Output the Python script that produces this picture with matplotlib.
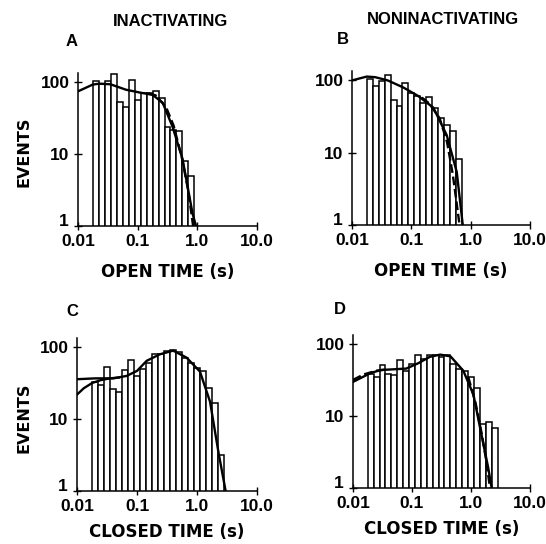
import numpy as np
import matplotlib
matplotlib.use("Agg")
import matplotlib.pyplot as plt
import matplotlib.transforms as mtransforms

# ----------------------------
# Histogram data (events per log bin)
# ----------------------------

bin_start = -1.75          # log10 of first bin edge (s)
bin_step = 0.1             # 10 bins per decade

open_inact = [103, 96, 103, 132, 53, 46, 107, 57, 70, 71, 75, 60, 24, 22, 21, 8, 4.9]
open_noninact = [104, 84, 98, 120, 53, 44, 91, 66, 61, 49, 59, 42, 30, 24, 20, 8.2]
closed_inact = [33, 30, 53, 26, 24, 48, 66, 40, 50, 60, 80, 80, 90, 92, 85, 72,
                61, 52, 47, 27, 16.6, 3.2]
closed_noninact = [39, 35, 51, 39, 37, 60, 43, 54, 71, 63, 72, 71, 67, 71, 54, 46,
                   43, 35, 25, 7.7, 8.2, 6.9]

# ----------------------------
# Fitted curves
# ----------------------------

fit_a_t = [0.01, 0.0176, 0.0228, 0.035, 0.0637, 0.11, 0.178, 0.263, 0.385, 0.566, 0.83, 0.95]
fit_a_y = [75, 93, 96, 94, 79, 72, 67, 52, 24, 8.5, 1.5, 1.0]
fit_a2_t = [0.15, 0.2, 0.3, 0.4, 0.55, 0.7, 0.85]
fit_a2_y = [70, 66, 45, 25, 9, 3.2, 1.0]

fit_b_t = [0.01, 0.0177, 0.0245, 0.04, 0.073, 0.13, 0.235, 0.395, 0.583, 0.736]
fit_b_y = [100, 113, 111, 100, 80, 61, 42, 17.5, 5.4, 1.0]
fit_b2_t = [0.15, 0.2, 0.3, 0.4, 0.5, 0.65]
fit_b2_y = [58, 48, 30, 14, 5, 1.0]

fit_c_t = [0.01, 0.02, 0.04, 0.067, 0.1, 0.145, 0.24, 0.40, 0.67, 1.12, 1.65, 2.26, 3.0]
fit_c_y = [36, 37, 37, 40, 47, 65, 80, 90, 72, 46, 17.5, 3.6, 1.0]
fit_c2_t = [0.01, 0.013, 0.018, 0.025, 0.035, 0.05]
fit_c2_y = [22, 27, 32, 35, 37, 38]

fit_d_t = [0.01, 0.02, 0.03, 0.05, 0.08, 0.13, 0.2, 0.3, 0.45, 0.74, 1.1, 1.42, 1.96, 2.24]
fit_d_y = [30, 40, 44, 45, 46, 55, 67, 72, 68, 43, 20, 7, 1.9, 1.0]
fit_d2_t = [0.01, 0.015, 0.025, 0.04]
fit_d2_y = [32, 38, 43, 45]
fit_d3_t = [0.9, 1.2, 1.5, 1.8, 2.1]
fit_d3_y = [35, 15, 6, 2.5, 1.0]

x_ticks = [0.01, 0.1, 1.0, 10.0]
x_ticklabels = ["0.01", "0.1", "1.0", "10.0"]
y_ticks = [1, 10, 100]
y_ticklabels = ["1", "10", "100"]

# ----------------------------
# Figure
# ----------------------------

W, H = 546, 544
fig = plt.figure(figsize=(W / 100, H / 100), dpi=100)

num_font = {"family": "Liberation Sans", "weight": "bold"}
lab_font = {"family": "DejaVu Sans", "weight": "bold"}


def make_axes(left, right, bottom, top):
    return fig.add_axes([left / W, 1 - bottom / H, (right - left) / W, (bottom - top) / H])


def draw_panel(ax, counts, curves, xlabel, labelpad):
    edges = 10 ** (bin_start + bin_step * np.arange(len(counts) + 1))
    ax.bar(edges[:-1], counts, width=np.diff(edges), align="edge",
           color="white", edgecolor="black", linewidth=1.1, zorder=2)
    for t, y, ls in curves:
        ax.plot(t, y, color="black", lw=1.7, ls=ls, zorder=3)
    ax.set_xscale("log")
    ax.set_yscale("log")
    ax.set_xlim(0.01, 10)
    ax.set_ylim(1, 135)
    ax.minorticks_off()
    ax.set_xticks(x_ticks)
    ax.set_xticklabels(x_ticklabels, fontdict=num_font, fontsize=12.5)
    ax.set_yticks(y_ticks)
    ax.set_yticklabels(y_ticklabels, fontdict=num_font, fontsize=12.5)
    ax.tick_params(direction="inout", length=6, width=1)
    ax.tick_params(axis="x", pad=3)
    ax.tick_params(axis="y", pad=3)
    # nudge the "1" label up so it clears "0.01"
    lift = mtransforms.ScaledTranslation(-1 / 72, 4 / 72, fig.dpi_scale_trans)
    lab = ax.get_yticklabels()[0]
    lab.set_transform(lab.get_transform() + lift)
    for s in ["top", "right"]:
        ax.spines[s].set_visible(False)
    for s in ["left", "bottom"]:
        ax.spines[s].set_linewidth(1.1)
    ax.set_xlabel(xlabel, fontdict=lab_font, fontsize=12, labelpad=labelpad)


ax_a = make_axes(78, 257, 226, 73)
draw_panel(ax_a, open_inact,
           [(fit_a_t, fit_a_y, "-"), (fit_a2_t, fit_a2_y, "--")], "OPEN TIME (s)", 10)

ax_b = make_axes(352, 530, 225, 71)
draw_panel(ax_b, open_noninact,
           [(fit_b_t, fit_b_y, "-"), (fit_b2_t, fit_b2_y, "--")], "OPEN TIME (s)", 10)

ax_c = make_axes(77, 257, 491, 338)
draw_panel(ax_c, closed_inact,
           [(fit_c_t, fit_c_y, "-"), (fit_c2_t, fit_c2_y, "-")], "CLOSED TIME (s)", 6)

ax_d = make_axes(353, 530, 488, 335)
draw_panel(ax_d, closed_noninact,
           [(fit_d_t, fit_d_y, "-"), (fit_d2_t, fit_d2_y, "--"), (fit_d3_t, fit_d3_y, "--")],
           "CLOSED TIME (s)", 6)

# ----------------------------
# Titles, panel letters, y labels
# ----------------------------

def fig_text(x, y, s, **kw):
    fig.text(x / W, 1 - y / H, s, ha="center", va="center", **kw)


fig_text(170, 21, "INACTIVATING", family="Liberation Sans", weight="bold", fontsize=12)
fig_text(443, 19, "NONINACTIVATING", family="Liberation Sans", weight="bold", fontsize=12)

for x, y, s in [(72, 42, "A"), (343, 40, "B"), (72, 311, "C"), (340, 310, "D")]:
    fig_text(x, y, s, family="Liberation Sans", weight="bold", fontsize=12)

fig_text(24, 152, "EVENTS", rotation=90, family="DejaVu Sans", weight="bold", fontsize=11.5)
fig_text(24, 418, "EVENTS", rotation=90, family="DejaVu Sans", weight="bold", fontsize=11.5)

plt.savefig("out.png", dpi=100)
plt.close()
